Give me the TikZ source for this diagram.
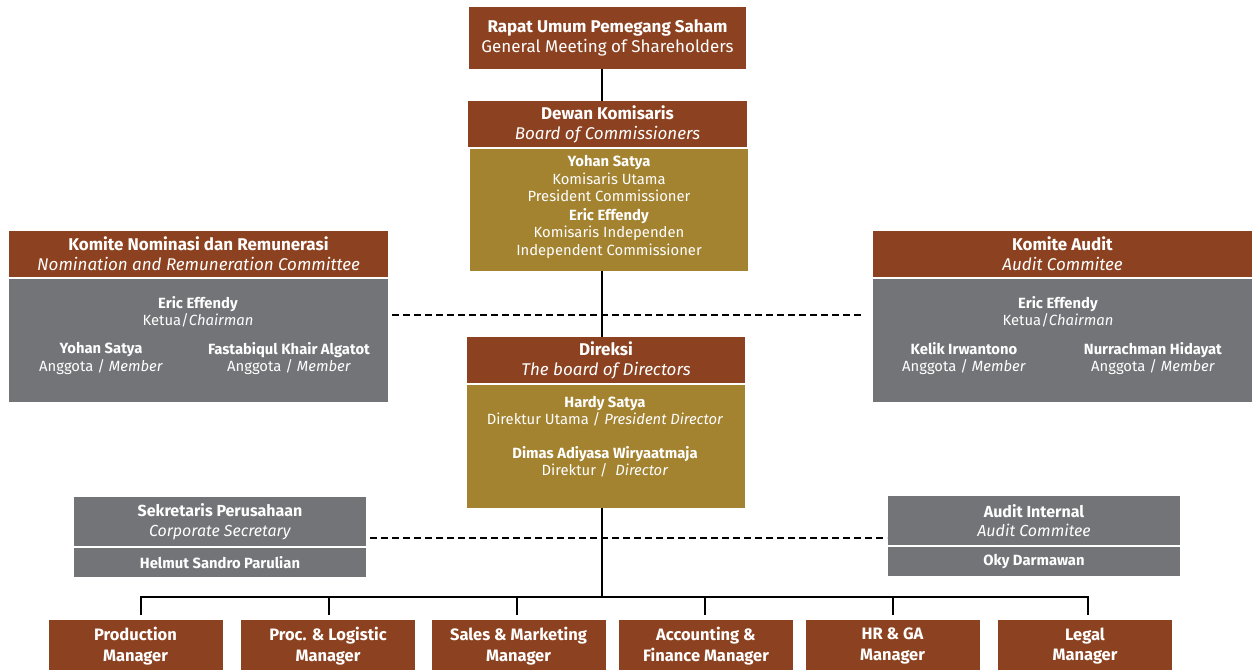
\documentclass[tikz,border=0pt]{standalone}
\usepackage{fontspec}
\setmainfont{Fira Sans}
\definecolor{brick}{RGB}{140,66,32}
\definecolor{ochre}{RGB}{163,130,48}
\definecolor{slate}{RGB}{115,116,120}
\begin{document}
\begin{tikzpicture}[x=1pt,y=-1pt,
        box/.style={inner sep=0pt,outer sep=0pt,text=white,align=center},
        hdr/.style={box,fill=brick,font=\fontsize{17}{20}\selectfont},
        gbox/.style={box,fill=ochre},
        sbox/.style={box,fill=slate},
        txt/.style={inner sep=0pt,text=white,align=center,
            font=\fontsize{14.8}{17.3}\selectfont},
        mgr/.style={box,fill=brick,minimum width=174,minimum height=52,
            font=\fontsize{16.5}{20.5}\selectfont\bfseries},
        wire/.style={line width=2pt},
        dashline/.style={line width=2pt,dash pattern=on 7pt off 4pt}]
    \useasboundingbox (0,0) rectangle (1252,669);
    \coordinate (spine) at (602,0);

    % top of the chart
    \node[hdr,minimum width=277,minimum height=62] (rups) at (607.5,38)
        {\textbf{Rapat Umum Pemegang Saham}\\General Meeting of Shareholders};
    \node[hdr,minimum width=279,minimum height=46] (dkh) at (607.5,124)
        {\textbf{Dewan Komisaris}\\\textit{Board of Commissioners}};
    \node[gbox,minimum width=278,minimum height=122] (dkb) at (609,210) {};
    \node[txt] (dkt) at (609,207)
        {\textbf{Yohan Satya}\\Komisaris Utama\\President Commissioner\\[2pt]
         \textbf{Eric Effendy}\\Komisaris Independen\\Independent Commissioner};

    % committees
    \node[hdr,minimum width=379,minimum height=46] (nrch) at (198.5,254)
        {\textbf{Komite Nominasi dan Remunerasi}\\\textit{Nomination and Remuneration Committee}};
    \node[sbox,minimum width=379,minimum height=123] (nrcb) at (198.5,340.5) {};
    \node[txt] (nrc1) at (198,311.5) {\textbf{Eric Effendy}\\Ketua/\textit{Chairman}};
    \node[txt] (nrc2) at (101,358.5) {\textbf{Yohan Satya}\\Anggota / \textit{Member}};
    \node[txt] (nrc3) at (289,358.5) {\textbf{Fastabiqul Khair Algatot}\\Anggota / \textit{Member}};

    \node[hdr,minimum width=379,minimum height=46] (audh) at (1062.5,254)
        {\textbf{Komite Audit}\\\textit{Audit Commitee}};
    \node[sbox,minimum width=379,minimum height=123] (audb) at (1062.5,340.5) {};
    \node[txt] (aud1) at (1058,311.5) {\textbf{Eric Effendy}\\Ketua/\textit{Chairman}};
    \node[txt] (aud2) at (964,358.5) {\textbf{Kelik Irwantono}\\Anggota / \textit{Member}};
    \node[txt] (aud3) at (1153,358.5) {\textbf{Nurrachman Hidayat}\\Anggota / \textit{Member}};

    % directors
    \node[hdr,minimum width=278,minimum height=46] (dirh) at (606,360)
        {\textbf{Direksi}\\\textit{The board of Directors}};
    \node[gbox,minimum width=278,minimum height=123] (dirb) at (606,446.5) {};
    \node[txt] (dir1) at (605,411) {\textbf{Hardy Satya}\\Direktur Utama / \textit{President Director}};
    \node[txt] (dir2) at (605,461.5) {\textbf{Dimas Adiyasa Wiryaatmaja}\\Direktur /~ \textit{Director}};

    % staff units
    \node[sbox,minimum width=292,minimum height=49,font=\fontsize{16}{19.5}\selectfont] (sekh) at (220,521.5)
        {\textbf{Sekretaris Perusahaan}\\\textit{Corporate Secretary}};
    \node[sbox,minimum width=292,minimum height=29,font=\fontsize{14.8}{17}\selectfont\bfseries] (sekb) at (220,562.5)
        {Helmut Sandro Parulian};
    \node[sbox,minimum width=292,minimum height=49,font=\fontsize{16}{19.5}\selectfont] (aih) at (1034,520.5)
        {\textbf{Audit Internal}\\\textit{Audit Commitee}};
    \node[sbox,minimum width=292,minimum height=29,font=\fontsize{14.8}{17}\selectfont\bfseries] (aib) at (1034,561.5)
        {Oky Darmawan};

    % managers
    \node[mgr] (prod)  at (135.5,646) {Production\\Manager};
    \node[mgr] (proc)  at (328,646)   {Proc. \& Logistic\\Manager};
    \node[mgr] (sales) at (518.5,646) {Sales \& Marketing\\Manager};
    \node[mgr] (acc)   at (706,646)   {Accounting \&\\Finance Manager};
    \node[mgr] (hr)    at (892.5,646) {HR \& GA\\Manager};
    \node[mgr] (legal) at (1085,646)  {Legal\\Manager};

    % connectors
    \draw[wire] (rups.south -| spine) -- (dkh.north -| spine);
    \draw[wire] (dkb.south -| spine) -- (dirh.north -| spine);
    \foreach \n/\dx in {prod/141,proc/329,sales/517,acc/705,hr/893,legal/1088}
        \coordinate (bus-\n) at (\dx,597);
    \draw[wire] (dirb.south -| spine) -- (spine |- bus-prod);
    \draw[wire,line cap=rect] (bus-prod) -- (bus-legal);
    \foreach \n in {prod,proc,sales,acc,hr,legal}
        \draw[wire,shorten >=5pt] (bus-\n) -- (bus-\n |- \n.north);

    \coordinate (midk) at (602,315);
    \coordinate (midd) at (602,538);
    \draw[dashline,shorten <=4pt,shorten >=11pt] (nrcb.east |- midk) -- (audb.west |- midk);
    \draw[dashline,shorten <=4pt,shorten >=1pt] (sekh.east |- midd) -- (aih.west |- midd);
\end{tikzpicture}
\end{document}
